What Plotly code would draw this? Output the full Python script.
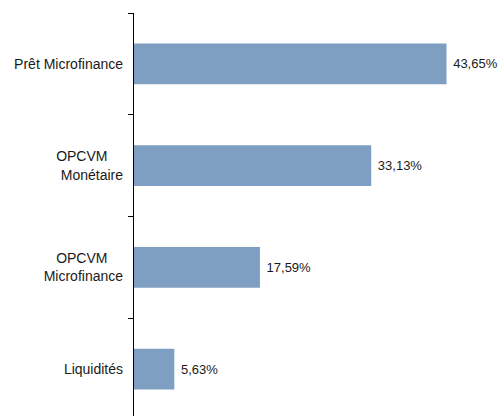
import plotly.graph_objects as go

categories = ["Prêt Microfinance", "OPCVM Monétaire", "OPCVM Microfinance", "Liquidités"]
tick_labels = ["Prêt Microfinance", "OPCVM\u00a0\u00a0\u00a0\u00a0<br>Monétaire", "OPCVM\u00a0\u00a0\u00a0\u00a0<br>Microfinance", "Liquidités"]
values = [43.65, 33.13, 17.59, 5.63]
value_labels = ["\u00a043,65%", "\u00a033,13%", "\u00a017,59%", "\u00a05,63%"]

FONT = "Liberation Sans, Arial, sans-serif"

fig = go.Figure(go.Bar(
    y=categories,
    x=values,
    orientation="h",
    width=0.4,
    marker=dict(color="#7F9FC2", line=dict(width=0)),
    text=value_labels,
    textposition="outside",
    textfont=dict(family=FONT, size=13, color="#1a1a1a"),
    cliponaxis=False,
    hoverinfo="skip",
))

fig.update_layout(
    width=504, height=416,
    margin=dict(l=134, r=12, t=13, b=0, autoexpand=False),
    paper_bgcolor="white", plot_bgcolor="white",
    showlegend=False,
    font=dict(family=FONT, size=13, color="#1a1a1a"),
    xaxis=dict(range=[0, 50], visible=False, showgrid=False, zeroline=False,
               fixedrange=True, automargin=False),
    yaxis=dict(
        type="category",
        categoryorder="array", categoryarray=categories,
        range=[3.46, -0.5],
        tickmode="array", tickvals=categories, ticktext=tick_labels,
        tickson="boundaries",
        ticks="outside", ticklen=5, tickcolor="black", tickwidth=1,
        showline=True, linecolor="black", linewidth=1.3,
        showgrid=False, zeroline=False,
        ticklabelstandoff=7,
        automargin=False,
        tickfont=dict(family=FONT, size=14, color="#1a1a1a"),
        fixedrange=True,
    ),
)

fig.write_html("out.html", config={"displayModeBar": False},
               post_script="document.body.style.margin='0';document.body.style.overflow='hidden';")
